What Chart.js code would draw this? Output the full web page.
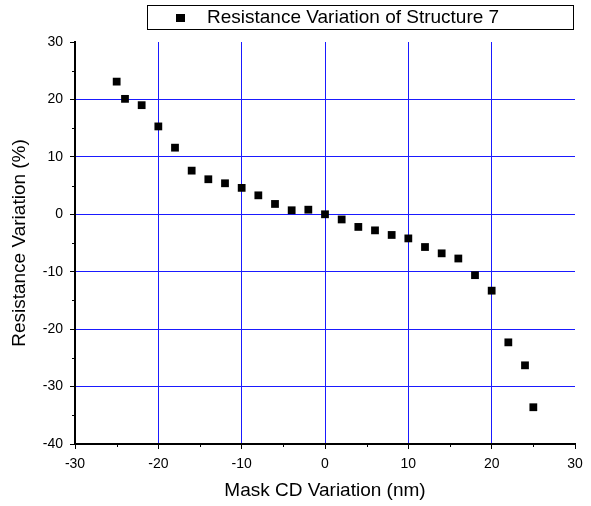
<!DOCTYPE html>
<html>
<head>
<meta charset="utf-8">
<script src="https://cdn.jsdelivr.net/npm/chart.js@4/dist/chart.umd.min.js"></script>
<style>
  html, body { margin: 0; padding: 0; background: #fff; }
  #wrap { width: 591px; height: 506px; }
</style>
</head>
<body>
<div id="wrap"><canvas id="chart" width="591" height="506"></canvas></div>
<script>
// data
const maskCD = [-25, -24, -22, -20, -18, -16, -14, -12, -10, -8, -6, -4, -2, 0,
                2, 4, 6, 8, 10, 12, 14, 16, 18, 20, 22, 24, 25];
const resVar = [23.1, 20.1, 19.0, 15.3, 11.6, 7.6, 6.1, 5.4, 4.6, 3.3, 1.8, 0.7, 0.8, 0.0,
                -0.9, -2.2, -2.8, -3.6, -4.2, -5.7, -6.8, -7.7, -10.6, -13.3, -22.3, -26.3, -33.6];
const seriesName = 'Resistance Variation of Structure 7';
const xTitle = 'Mask CD Variation (nm)';
const yTitle = 'Resistance Variation (%)';

const points = maskCD.map((x, i) => ({ x: x, y: resVar[i] }));
const FONT = 'Arial, "Liberation Sans", sans-serif';

// grid only inside the frame (skip min / max)
function gridColor(ctx) {
  const s = ctx.scale;
  if (ctx.tick && (ctx.tick.value === s.min || ctx.tick.value === s.max)) return 'rgba(0,0,0,0)';
  return '#1a1aff';
}

// minor ticks + boxed legend
const extras = {
  id: 'extras',
  afterDraw(chart) {
    const c = chart.ctx;
    const xs = chart.scales.x, ys = chart.scales.y;
    const area = chart.chartArea;
    c.save();
    c.strokeStyle = '#000';
    c.lineWidth = 1;
    for (let v = -25; v < 30; v += 10) {
      const px = Math.round(xs.getPixelForValue(v)) + 0.5;
      c.beginPath(); c.moveTo(px, area.bottom); c.lineTo(px, area.bottom + 3); c.stroke();
    }
    for (let v = -35; v < 30; v += 10) {
      const py = Math.round(ys.getPixelForValue(v)) + 0.5;
      c.beginPath(); c.moveTo(area.left, py); c.lineTo(area.left - 3, py); c.stroke();
    }
    // legend
    const lx = 147, ly = 5, lw = 426, lh = 24;
    c.fillStyle = '#fff';
    c.fillRect(lx, ly, lw, lh);
    c.strokeRect(lx + 0.5, ly + 0.5, lw, lh);
    c.fillStyle = '#000';
    c.fillRect(176, 14, 9, 8);
    c.font = '19px ' + FONT;
    c.textBaseline = 'middle';
    c.fillText(seriesName, 207, 18);
    c.restore();
  }
};

new Chart(document.getElementById('chart'), {
  type: 'scatter',
  data: {
    datasets: [{
      label: seriesName,
      data: points,
      pointStyle: 'rect',
      pointRadius: 5.5,
      pointHoverRadius: 5.5,
      backgroundColor: '#000',
      borderColor: '#000',
      borderWidth: 0
    }]
  },
  options: {
    responsive: false,
    animation: false,
    layout: { padding: { top: 42, right: 16, left: 0, bottom: 0 } },
    plugins: {
      legend: { display: false },
      tooltip: { enabled: false }
    },
    scales: {
      x: {
        type: 'linear',
        min: -30, max: 30,
        afterFit(s) { s.height = 62; },
        border: { color: '#000', width: 2 },
        grid: { color: gridColor, lineWidth: 1, tickColor: '#000', tickLength: 5, drawTicks: true },
        ticks: { stepSize: 10, color: '#000', font: { family: FONT, size: 14 }, padding: 7 },
        title: { display: true, text: xTitle, color: '#000', font: { family: FONT, size: 19 }, padding: { top: 3 } }
      },
      y: {
        type: 'linear',
        min: -40, max: 30,
        afterFit(s) { s.width = 75; },
        border: { color: '#000', width: 2 },
        grid: { color: gridColor, lineWidth: 1, tickColor: '#000', tickLength: 5, drawTicks: true },
        ticks: { stepSize: 10, color: '#000', font: { family: FONT, size: 14 }, padding: 7 },
        title: { display: true, text: yTitle, color: '#000', font: { family: FONT, size: 19 }, padding: { top: 8 } }
      }
    }
  },
  plugins: [extras]
});
</script>
</body>
</html>
